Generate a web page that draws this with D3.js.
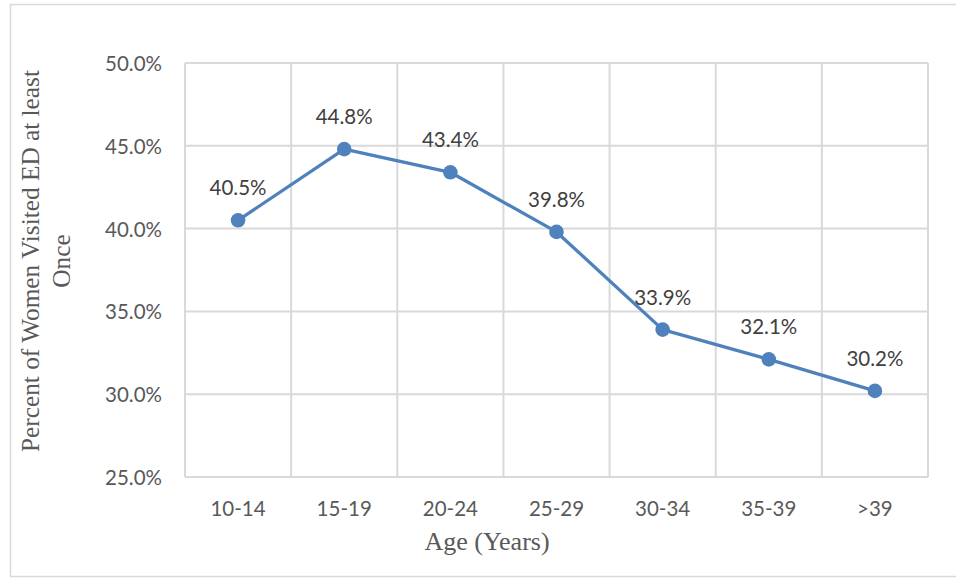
<!DOCTYPE html>
<html>
<head>
<meta charset="utf-8">
<script src="https://cdn.jsdelivr.net/npm/d3@7"></script>
<style>
  html, body { margin: 0; padding: 0; background: #ffffff; }
  svg { display: block; }
</style>
</head>
<body>
<script>
// Age groups and share of women who visited the ED at least once (%)
const ageGroups = ["10-14", "15-19", "20-24", "25-29", "30-34", "35-39", ">39"];
const percentVisited = [40.5, 44.8, 43.4, 39.8, 33.9, 32.1, 30.2];
const yTicks = [25, 30, 35, 40, 45, 50];
const xTitle = "Age (Years)";
const yTitleLines = ["Percent of Women Visited ED at least", "Once"];

const W = 956, H = 579;
const plot = { left: 185, right: 928, top: 63, bottom: 477 };
const gridColor = "#d9d9d9";
const lineColor = "#4f81bd";
const sansFont = "Lato, 'Open Sans', sans-serif";
const serifFont = "'Liberation Serif', 'Times New Roman', serif";

const svg = d3.select("body").append("svg")
  .attr("width", W).attr("height", H);

// chart frame
svg.append("rect")
  .attr("x", 10.5).attr("y", 4.5)
  .attr("width", W + 10).attr("height", 572)
  .attr("fill", "#ffffff")
  .attr("stroke", gridColor).attr("stroke-width", 1.5);

const x = d3.scaleBand().domain(ageGroups).range([plot.left, plot.right]).padding(0);
const y = d3.scaleLinear().domain([25, 50]).range([plot.bottom, plot.top]);

// horizontal gridlines
svg.append("g").selectAll("line").data(yTicks).join("line")
  .attr("x1", plot.left).attr("x2", plot.right)
  .attr("y1", d => y(d)).attr("y2", d => y(d))
  .attr("stroke", gridColor).attr("stroke-width", 2);

// vertical gridlines at category boundaries
const bounds = ageGroups.map(d => x(d)).concat([plot.right]);
svg.append("g").selectAll("line").data(bounds).join("line")
  .attr("x1", d => d).attr("x2", d => d)
  .attr("y1", plot.top).attr("y2", plot.bottom)
  .attr("stroke", gridColor).attr("stroke-width", 2);

// y tick labels
svg.append("g").selectAll("text").data(yTicks).join("text")
  .attr("x", 162).attr("y", d => y(d) + 8)
  .attr("text-anchor", "end")
  .attr("font-family", sansFont).attr("font-size", 20.5)
  .attr("fill", "#595959")
  .text(d => d.toFixed(1) + "%");

// x tick labels
svg.append("g").selectAll("text").data(ageGroups).join("text")
  .attr("x", d => x(d) + x.bandwidth() / 2).attr("y", plot.bottom + 39)
  .attr("text-anchor", "middle")
  .attr("font-family", sansFont).attr("font-size", 20.5)
  .attr("fill", "#595959")
  .text(d => d);

// series line
const pts = ageGroups.map((g, i) => ({ g, v: percentVisited[i] }));
svg.append("path").datum(pts)
  .attr("fill", "none")
  .attr("stroke", lineColor).attr("stroke-width", 3.3)
  .attr("stroke-linejoin", "round")
  .attr("d", d3.line().x(d => x(d.g) + x.bandwidth() / 2).y(d => y(d.v)));

// markers
svg.append("g").selectAll("circle").data(pts).join("circle")
  .attr("cx", d => x(d.g) + x.bandwidth() / 2).attr("cy", d => y(d.v))
  .attr("r", 7.3).attr("fill", lineColor);

// value labels
svg.append("g").selectAll("text").data(pts).join("text")
  .attr("x", d => x(d.g) + x.bandwidth() / 2).attr("y", d => y(d.v) - 25)
  .attr("text-anchor", "middle")
  .attr("font-family", sansFont).attr("font-size", 20.5)
  .attr("fill", "#404040")
  .text(d => d.v.toFixed(1) + "%");

// axis titles
svg.append("text")
  .attr("x", 487).attr("y", 550)
  .attr("text-anchor", "middle")
  .attr("font-family", serifFont).attr("font-size", 26)
  .attr("fill", "#595959")
  .text(xTitle);

const yTitle = svg.append("text")
  .attr("transform", "translate(39,261) rotate(-90)")
  .attr("text-anchor", "middle")
  .attr("font-family", serifFont).attr("font-size", 25.3)
  .attr("fill", "#595959");
yTitle.selectAll("tspan").data(yTitleLines).join("tspan")
  .attr("x", 0).attr("dy", (d, i) => i === 0 ? 0 : 31)
  .text(d => d);
</script>
</body>
</html>
